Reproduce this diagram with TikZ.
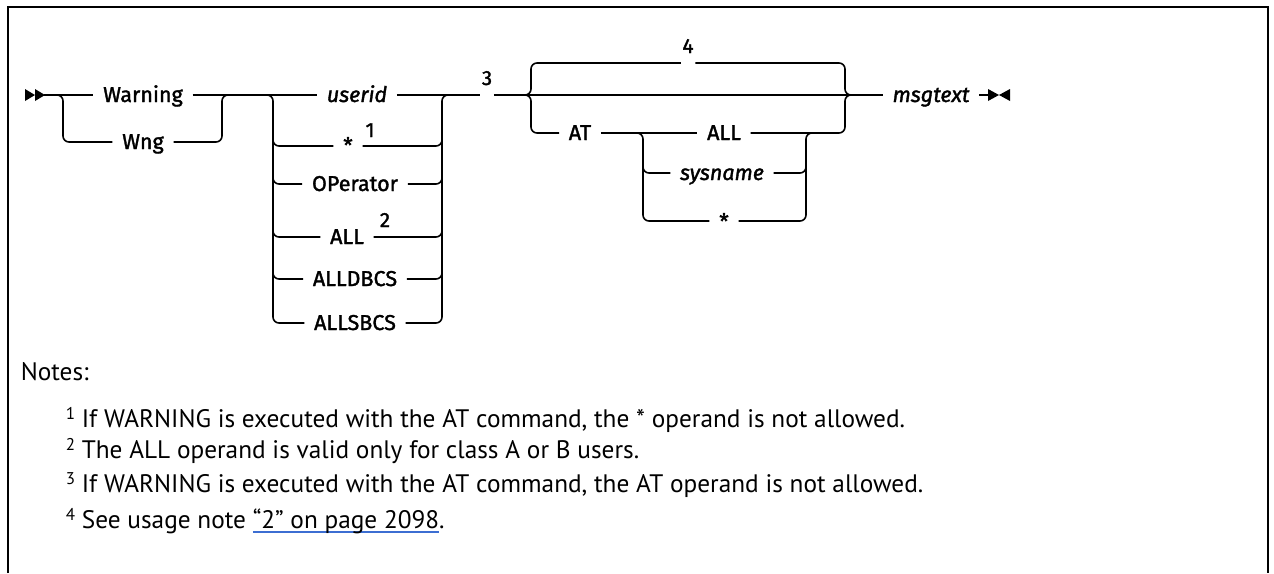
\documentclass[tikz,border=0pt]{standalone}
\usepackage{fontspec}
\setmainfont{PT Sans}
\newfontfamily\lblfont{Fira Sans}[FakeBold=1.6]
\definecolor{linkblue}{RGB}{60,110,210}
\newcommand\lnk[1]{\setbox0\hbox{#1}\rlap{\color{linkblue}\rule[-4.5pt]{\wd0}{1.5pt}}\box0}
\newcommand\nsup[1]{\raisebox{8pt}{\fontsize{17}{20}\selectfont #1}}
\tikzset{
  rc/.style={rounded corners=6pt},
  lbl/.style={font=\lblfont\fontsize{21.5}{26}\selectfont, inner xsep=9pt, inner ysep=0pt, anchor=base},
  ilbl/.style={lbl, font=\lblfont\itshape\fontsize{21.5}{26}\selectfont},
  sup/.style={font=\lblfont\fontsize{20.5}{24}\selectfont, inner sep=0pt, anchor=base},
  note/.style={font=\fontsize{25.3}{30}\selectfont, inner sep=0pt, anchor=base west},
}
\begin{document}
\begin{tikzpicture}[x=1pt,y=-1pt,line width=1.6pt]
\useasboundingbox (0,0) rectangle (1274,573);
% frame
\draw[line width=2pt] (8,573) -- (8,7) -- (1268,7) -- (1268,573);
% start mark
\fill (25,89) -- (35,95) -- (25,101) -- cycle;
\fill (35,89) -- (45,95) -- (35,101) -- cycle;
\coordinate (s) at (44,95);
% group 1
\node[lbl] (warning) at (143,102) {Warning};
\node[lbl] (wng) at (143,149) {Wng};
\draw (s) -- (warning.west |- s);
\draw[rc] (55,95) -- (63,95) -- (63,142) -- (wng.west |- 0,142);
\draw[rc] (wng.east |- 0,142) -- (222,142) -- (222,95) -- (230,95);
% group 2
\node[ilbl] (userid) at (357,102) {userid};
\node[lbl] (star) at (348,153) {*};
\node[sup] (s1) at (370,137) {1};
\node[lbl] (oper) at (355,191) {OPerator};
\node[lbl] (all) at (347,244) {ALL};
\node[sup] (s2) at (385,227) {2};
\node[lbl] (alldbcs) at (355,286) {ALLDBCS};
\node[lbl] (allsbcs) at (355,330) {ALLSBCS};
\draw (warning.east |- s) -- (userid.west |- s);
\draw[rc] (265,95) -- (273,95) -- (273,323) -- (allsbcs.west |- 0,323);
\draw[rc] (allsbcs.east |- 0,323) -- (442,323) -- (442,95) -- (450,95);
\foreach \n/\y in {star/146,oper/184,all/237,alldbcs/279}{
  \draw[rc] (273,\y-10) -- (273,\y) -- (\n.west |- 0,\y);
  \draw[rc] (\n.east |- 0,\y) -- (442,\y) -- (442,\y-10);
}
% note 3 mark
\node[sup,inner xsep=1pt] (n3) at (487,85) {3};
\draw (userid.east |- s) -- (n3.west |- s);
% group 3
\node[sup,inner xsep=1pt] (n4) at (688,53) {4};
\node[ilbl] (msgtext) at (931,102) {msgtext};
\draw (n3.east |- s) -- (msgtext.west |- s);
\node[lbl] (at) at (580,140) {AT};
\node[lbl] (all2) at (724,140) {ALL};
\node[ilbl] (sysname) at (722,180) {sysname};
\node[lbl] (star2) at (724,229) {*};
\draw[rc] (n4.west |- 0,63) -- (531,63) -- (531,95) -- (522,95);
\draw[rc] (522,95) -- (531,95) -- (531,133) -- (at.west |- 0,133);
\draw[rc] (n4.east |- 0,63) -- (845,63) -- (845,95) -- (853,95);
\draw[rc] (853,95) -- (845,95) -- (845,133) -- (all2.east |- 0,133);
\draw (at.east |- 0,133) -- (all2.west |- 0,133);
% group 4
\draw[rc] (635,133) -- (643,133) -- (643,221) -- (star2.west |- 0,221);
\draw[rc] (643,163) -- (643,173) -- (sysname.west |- 0,173);
\draw[rc] (star2.east |- 0,221) -- (806,221) -- (806,133) -- (814,133);
\draw[rc] (sysname.east |- 0,173) -- (806,173) -- (806,163);
% end mark
\coordinate (e) at (988,95);
\draw (msgtext.east |- s) -- (e);
\fill (e) ++(0,-6) -- (999,95) -- (988,101) -- cycle;
\fill (1010,89) -- (999,95) -- (1010,101) -- cycle;
% notes
\node[note] (notes) at (20,380) {Notes:};
\node[note] (nt1) at (65,427) {\nsup{1} If WARNING is executed with the AT command, the * operand is not allowed.};
\node[note] (nt2) at (65,458) {\nsup{2} The ALL operand is valid only for class A or B users.};
\node[note] (nt3) at (65,492) {\nsup{3} If WARNING is executed with the AT command, the AT operand is not allowed.};
\node[note] (nt4) at (65,528) {\nsup{4} See usage note \lnk{“2” on page 2098}.};
\end{tikzpicture}
\end{document}
